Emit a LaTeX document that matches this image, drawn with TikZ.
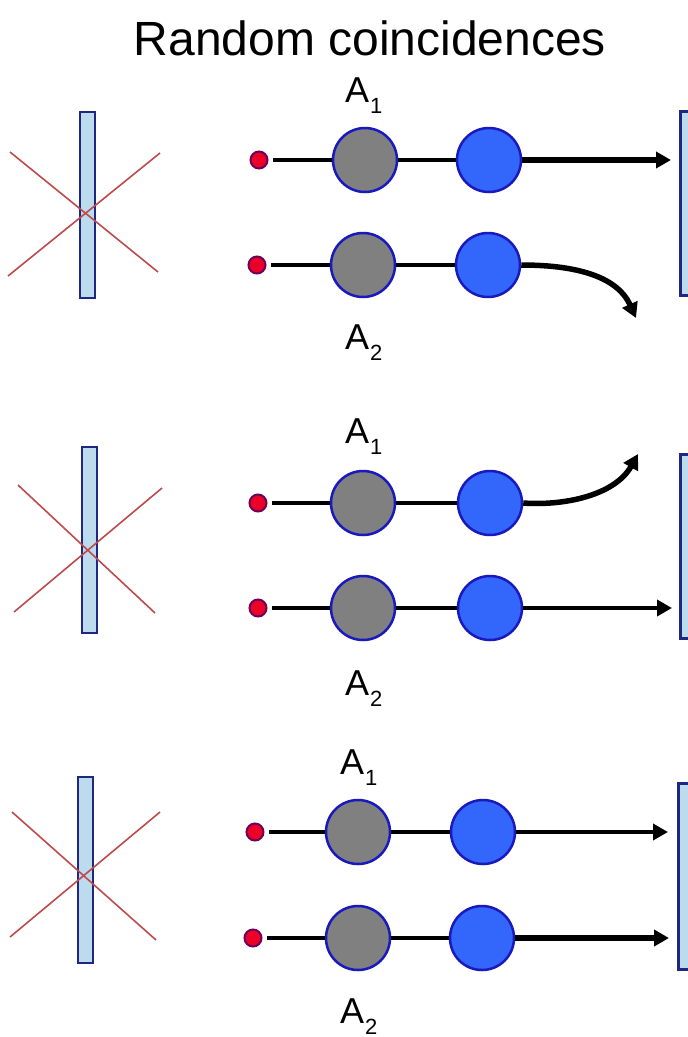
\documentclass[tikz,border=0pt]{standalone}
\usepackage{fontspec}
\setmainfont{Liberation Sans}
\usepackage{xcolor}
\usetikzlibrary{arrows.meta,positioning}

\definecolor{barfill}{RGB}{188,220,238}
\definecolor{barline}{RGB}{30,40,130}
\definecolor{greyfill}{RGB}{128,128,128}
\definecolor{ringblue}{RGB}{25,25,190}
\definecolor{ballblue}{RGB}{51,102,250}
\definecolor{dotred}{RGB}{235,0,40}
\definecolor{dotrim}{RGB}{110,0,90}
\definecolor{crossred}{RGB}{190,75,75}

\newcommand{\alab}[1]{A\kern1pt\raisebox{-11pt}{\fontsize{22}{22}\selectfont #1}}

\begin{document}
\begin{tikzpicture}[x=1pt, y=-1pt,
    head/.style={font=\fontsize{48}{50}\selectfont},
    lab/.style={font=\fontsize{36}{36}\selectfont, anchor=base west, inner sep=0pt},
    src/.style={circle, draw=dotrim, fill=dotred, line width=2pt, minimum size=17pt, inner sep=0pt, outer sep=5pt},
    grey/.style={circle, draw=ringblue, fill=greyfill, line width=2.5pt, minimum size=64pt, inner sep=0pt},
    ball/.style={circle, draw=ringblue, fill=ballblue, line width=2.5pt, minimum size=64pt, inner sep=0pt},
    bar/.style={draw=barline, fill=barfill, line width=2.5pt, minimum width=15pt, inner sep=0pt},
    cross/.style={crossred, line width=1.6pt},
    link/.style={line width=3.6pt},
    arr/.style={-{Triangle[length=15pt, width=16pt]}, line width=3.6pt},
    fatarr/.style={arr, line width=5.5pt}
]
    \useasboundingbox (0,0) rectangle (688,1037);
    \fill[white] (0,0) rectangle (688,1037);
    \node[head] (title) at (370,38) {Random coincidences};

    % top pair
    \node[bar, minimum height=186pt] (lbar1) at (87.5,205) {};
    \draw[cross] (10,152) -- (158,272);
    \draw[cross] (8,276) -- (160,153);
    \node[bar, minimum height=184pt, anchor=north west] (rbar1) at (679,110) {};
    \node[src] (s11) at (259,160) {};
    \node[grey] (g11) at (365,160) {};
    \node[ball] (b11) at (489,160) {};
    \node[src] (s12) at (257,265) {};
    \node[grey] (g12) at (363,265) {};
    \node[ball] (b12) at (488,265) {};
    \node[lab] (a11) at (345,102) {\alab{1}};
    \node[lab] (a12) at (345,349) {\alab{2}};
    \coordinate (e11) at (671,160);
    \coordinate (e12) at (636,318);
    \draw[link] (s11) -- (g11) -- (b11);
    \draw[link] (s12) -- (g12) -- (b12);
    \draw[fatarr] (b11) -- (e11);
    \draw[fatarr] (b12.east) .. controls (580,265) and (618,278) .. (e12);

    % middle pair
    \node[bar, minimum height=186pt] (lbar2) at (89.5,540) {};
    \draw[cross] (18,485) -- (155,613);
    \draw[cross] (14,612) -- (162,488);
    \node[bar, minimum height=184pt, anchor=north west] (rbar2) at (679,453) {};
    \node[src] (s21) at (258,503) {};
    \node[grey] (g21) at (363,503) {};
    \node[ball] (b21) at (490,503) {};
    \node[src] (s22) at (258,608) {};
    \node[grey] (g22) at (363,608) {};
    \node[ball] (b22) at (490,608) {};
    \node[lab] (a21) at (345,443) {\alab{1}};
    \node[lab] (a22) at (345,695) {\alab{2}};
    \coordinate (e21) at (638,454);
    \coordinate (e22) at (672,608);
    \draw[link] (s21) -- (g21) -- (b21);
    \draw[link] (s22) -- (g22) -- (b22);
    \draw[fatarr] (b21.east) .. controls (565,506) and (615,495) .. (e21);
    \draw[arr] (b22) -- (e22);

    % bottom pair
    \node[bar, minimum height=186pt] (lbar3) at (85.5,870) {};
    \draw[cross] (12,812) -- (156,940);
    \draw[cross] (10,937) -- (160,812);
    \node[bar, minimum height=186pt, anchor=north west] (rbar3) at (677,782) {};
    \node[src] (s31) at (255,832) {};
    \node[grey] (g31) at (358,832) {};
    \node[ball] (b31) at (483,832) {};
    \node[src] (s32) at (253,938) {};
    \node[grey] (g32) at (358,938) {};
    \node[ball] (b32) at (482,938) {};
    \node[lab] (a31) at (340,774) {\alab{1}};
    \node[lab] (a32) at (340,1023) {\alab{2}};
    \coordinate (e31) at (668,832);
    \coordinate (e32) at (669,938);
    \draw[link] (s31) -- (g31) -- (b31);
    \draw[link] (s32) -- (g32) -- (b32);
    \draw[arr] (b31) -- (e31);
    \draw[fatarr] (b32) -- (e32);
\end{tikzpicture}
\end{document}
